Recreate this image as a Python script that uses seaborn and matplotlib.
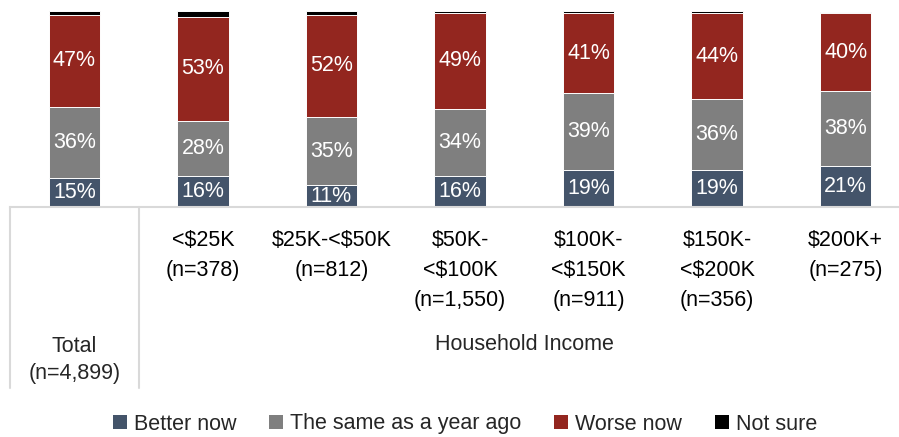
import matplotlib
matplotlib.use("Agg")
import matplotlib.pyplot as plt
import matplotlib.transforms as mtransforms
from matplotlib.lines import Line2D
from matplotlib.patches import Patch
import seaborn as sns
import numpy as np

# ---- data ----
groups = ["Total", "<$25K", "$25K-<$50K", "$50K-<$100K", "$100K-<$150K", "$150K-<$200K", "$200K+"]
tick_labels = ["Total\n(n=4,899)", "<$25K\n(n=378)", "$25K-<$50K\n(n=812)",
               "$50K-\n<$100K\n(n=1,550)", "$100K-\n<$150K\n(n=911)",
               "$150K-\n<$200K\n(n=356)", "$200K+\n(n=275)"]
group_title = "Household Income"
series_names = ["Better now", "The same as a year ago", "Worse now", "Not sure"]
better = [15, 16, 11, 16, 19, 19, 21]
same = [36, 28, 35, 34, 39, 36, 38]
worse = [47, 53, 52, 49, 41, 44, 40]
not_sure = [2, 3, 2, 1, 1, 1, 0.5]

colors = ["#44546A", "#7F7F7F", "#93261F", "#000000"]
FS = 15.5
LS = 1.55

def esc(s):
    return s.replace("$", r"\$")

sns.set_theme(style="white")
plt.rcParams["font.family"] = ["Liberation Sans", "DejaVu Sans"]

W, H = 899, 437
fig = plt.figure(figsize=(W / 100, H / 100), dpi=100)
ax = fig.add_axes([10 / W, 1 - 207 / H, 900 / W, 196 / H])

series = [better, same, worse, not_sure]
cum = np.cumsum(np.array(series, dtype=float), axis=0)
xcats = [esc(g) for g in groups]

for i in range(3, -1, -1):
    sns.barplot(x=xcats, y=cum[i], order=xcats, color=colors[i], saturation=1,
                width=0.4, edgecolor="white", linewidth=0.7, ax=ax)

for i in range(3):
    for j in range(len(groups)):
        v = series[i][j]
        ax.text(j, cum[i][j] - v / 2, f"{v:.0f}%", ha="center", va="center",
                color="white", fontsize=FS)

ax.set_ylim(0, 100)
ax.set_xlim(-0.5, 6.5)
ax.set_xlabel("")
ax.set_ylabel("")
ax.set_yticks([])
for s in ["top", "left", "right"]:
    ax.spines[s].set_visible(False)
ax.spines["bottom"].set_color("#D9D9D9")
ax.spines["bottom"].set_linewidth(1.5)

ax.set_xticks(range(len(groups)))
ax.set_xticklabels([""] + [esc(t) for t in tick_labels[1:]], fontsize=FS,
                   linespacing=LS, color="#000000")
ax.tick_params(axis="x", length=0, pad=16.5)

trans = mtransforms.blended_transform_factory(ax.transData, fig.transFigure)
ax.text(0, 1 - 360 / H, esc(tick_labels[0]), transform=trans, ha="center",
        va="center", fontsize=FS, linespacing=1.4)
ax.text(3.5, 1 - 345 / H, group_title, transform=trans, ha="center",
        va="center", fontsize=FS)

for xv in [-0.5, 0.5]:
    fig.add_artist(Line2D([xv, xv], [1 - 207 / H, 1 - 388 / H], transform=trans,
                          color="#D9D9D9", lw=1.5))

handles = [Patch(facecolor=c, edgecolor="none") for c in colors]
fig.legend(handles, series_names, loc="center", bbox_to_anchor=(465 / W, 1 - 424 / H),
           ncol=4, frameon=False, fontsize=FS, handlelength=0.65, handleheight=0.65,
           handletextpad=0.35, columnspacing=1.5)

fig.savefig("out.png", dpi=100)
